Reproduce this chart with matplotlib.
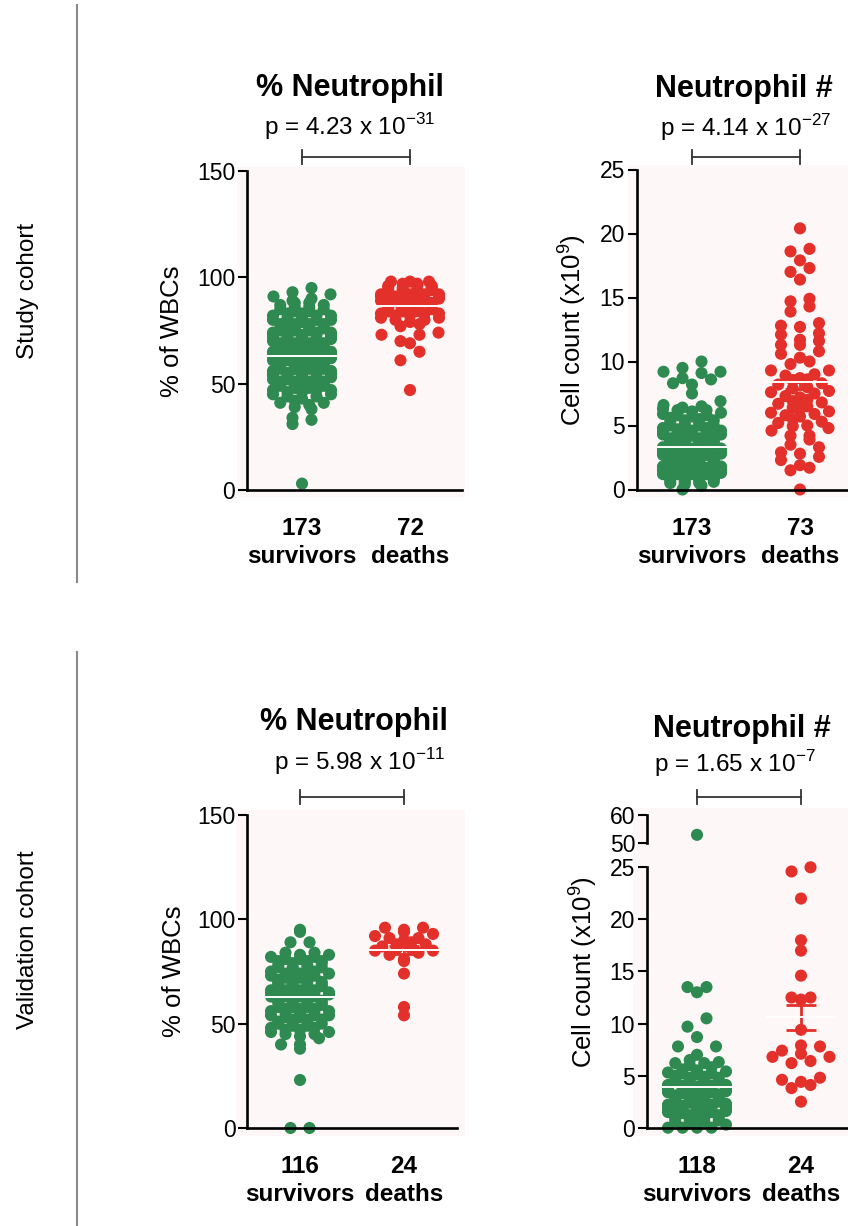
import matplotlib
matplotlib.use('Agg')
import matplotlib.pyplot as plt
import numpy as np
from matplotlib.lines import Line2D
from matplotlib.patches import Rectangle

plt.rcParams['font.family'] = 'Liberation Sans'
plt.rcParams['mathtext.fontset'] = 'custom'
plt.rcParams['mathtext.rm'] = 'Liberation Sans'

# ---- data ----
groups = ['survivors', 'deaths']

study_pct_surv = [
    3, 31, 33, 34,
    38, 39, 40, 41, 41, 42, 43, 44, 44, 45, 45,
    46, 46, 47, 47, 47, 48, 48, 49, 49, 49, 50, 50, 50, 50,
    51, 51, 51, 52, 52, 52, 52, 53, 53, 53, 54, 54, 54, 54, 55, 55, 55, 55,
    56, 56, 56, 57, 57, 57, 57, 58, 58, 58, 58, 59, 59, 59, 60, 60, 60, 60,
    61, 61, 61, 62, 62, 62, 63, 63, 63, 64, 64, 64, 65, 65, 65, 65,
    66, 66, 66, 67, 67, 67, 68, 68, 68, 69, 69, 69, 70, 70, 70, 70,
    71, 71, 71, 72, 72, 72, 73, 73, 73, 74, 74, 74, 75, 75, 75,
    76, 76, 76, 77, 77, 77, 78, 78, 78, 79, 79, 80, 80, 80,
    81, 81, 82, 82, 82, 83, 83, 84, 84, 85, 85,
    86, 86, 87, 87, 88, 88, 89, 90, 91, 92, 93, 95,
    47, 49, 51, 53, 55, 57, 59, 61, 63, 65, 67, 69, 71, 73,
    56, 58, 62, 64, 66, 68, 72, 74, 76, 78]
study_pct_death = [
    47, 61, 65, 69, 70, 73, 73, 74, 77,
    78, 79, 80, 80, 81, 81, 82, 82, 83, 83, 83, 84, 84, 84,
    85, 85, 85, 85, 86, 86, 86, 86, 87, 87, 87, 87, 88, 88, 88, 88,
    89, 89, 89, 89, 90, 90, 90, 90, 91, 91, 91, 91, 92, 92, 92, 92,
    93, 93, 93, 94, 94, 94, 95, 95, 95, 96, 96, 96, 97, 97, 98, 98, 98]

study_cnt_surv = [
    10.0, 9.5, 9.2, 9.1, 9.2, 8.7, 8.3, 8.2, 8.6, 7.5,
    0.0, 0.3, 0.4, 0.5, 0.5, 0.6, 0.7, 0.7, 0.8, 0.8, 0.9, 0.9,
    1.0, 1.0, 1.0, 1.1, 1.1, 1.1, 1.2, 1.2, 1.2, 1.3, 1.3, 1.3, 1.4, 1.4, 1.4,
    1.5, 1.5, 1.5, 1.6, 1.6, 1.6, 1.7, 1.7, 1.7, 1.8, 1.8, 1.8, 1.9, 1.9, 1.9,
    2.0, 2.0, 2.0, 2.1, 2.1, 2.1, 2.2, 2.2, 2.2, 2.3, 2.3, 2.3, 2.4, 2.4, 2.4,
    2.5, 2.5, 2.5, 2.6, 2.6, 2.6, 2.7, 2.7, 2.7, 2.8, 2.8, 2.8, 2.9, 2.9, 2.9,
    3.0, 3.0, 3.0, 3.1, 3.1, 3.2, 3.2, 3.3, 3.3, 3.4, 3.4, 3.5, 3.5, 3.6, 3.6,
    3.7, 3.7, 3.8, 3.8, 3.9, 3.9, 4.0, 4.0, 4.1, 4.1, 4.2, 4.2, 4.3, 4.3,
    4.4, 4.5, 4.5, 4.6, 4.7, 4.8, 4.8, 4.9, 5.0, 5.0,
    5.1, 5.2, 5.3, 5.4, 5.5, 5.6, 5.7, 5.8, 5.9, 6.0, 6.1, 6.2, 6.3, 6.4, 6.5, 6.6, 6.9,
    0.6, 0.9, 1.0, 1.2, 1.3, 1.5, 1.6, 1.8, 1.9, 2.0, 2.1, 2.2, 2.4, 2.5, 2.6,
    2.7, 2.8, 3.0, 3.1, 3.2, 3.4, 3.5, 3.6, 3.8, 4.0, 4.2, 4.4, 4.6, 5.0, 5.4,
    5.8, 6.2, 3.3, 2.3, 1.4]
study_cnt_death = [
    20.4, 18.8, 18.6, 17.9, 17.0, 17.3, 16.4, 14.7, 14.9, 14.3, 13.9,
    13.0, 12.7, 12.2, 12.8, 12.1, 11.6, 11.7, 11.3, 11.3, 10.8, 10.6,
    10.3, 10.0, 9.8, 9.3, 9.3,
    9.0, 8.9, 8.7, 8.6, 8.5, 8.3, 8.2, 8.0, 7.9, 7.7, 7.6, 7.5, 7.3, 7.2,
    7.0, 6.9, 6.8, 6.7, 6.5, 6.4, 6.3, 6.1, 6.0, 5.9, 5.8, 5.7, 5.5, 5.3,
    5.2, 5.0, 4.95, 4.8, 4.6,
    4.2, 4.2, 3.9, 3.5, 3.3, 2.8, 2.9, 2.55, 2.3, 1.9, 1.7, 1.5, 0.0]

valid_pct_surv = [
    0, 0, 23, 38, 40, 40, 45, 45, 84, 84, 89, 89, 94, 95,
    46, 47, 47, 48, 48, 49, 49, 50, 50, 50, 51, 51, 52, 52, 53, 53,
    54, 54, 55, 55, 56, 56, 57, 57, 58, 58, 58, 59, 59, 60, 60, 60,
    61, 61, 61, 62, 62, 62, 63, 63, 63, 64, 64, 64, 65, 65, 65,
    66, 66, 66, 67, 67, 67, 68, 68, 68, 69, 69, 70, 70, 70, 71, 71,
    72, 72, 73, 73, 74, 74, 75, 75, 76, 76, 77, 77, 78, 78, 79, 79,
    80, 80, 81, 81, 82, 82, 83, 83,
    56, 59, 63, 66, 69, 71, 74, 77, 80, 43, 44, 46, 52, 54, 57]
valid_pct_death = [54, 58, 74, 80, 81, 83, 84, 85, 85, 86, 86, 87,
                   88, 88, 89, 90, 91, 91, 92, 93, 94, 95, 96, 96]

valid_cnt_surv = [
    53, 13.5, 13.5, 13.0, 10.5, 9.7, 8.7, 7.8, 7.8, 7.0, 6.2, 6.2, 0, 0, 0, 0,
    0.3, 0.5, 0.6, 0.7, 0.8, 0.9, 1.0, 1.0, 1.1, 1.2, 1.2, 1.3, 1.4, 1.4,
    1.5, 1.5, 1.6, 1.6, 1.7, 1.8, 1.8, 1.9, 1.9,
    2.0, 2.0, 2.1, 2.1, 2.2, 2.2, 2.3, 2.3, 2.4, 2.4, 2.5, 2.5, 2.6, 2.6,
    2.7, 2.7, 2.8, 2.8, 2.9, 2.9, 3.0, 3.0, 3.1, 3.1, 3.2, 3.2, 3.3, 3.3,
    3.4, 3.4, 3.5, 3.5, 3.6, 3.6, 3.7, 3.7, 3.8, 3.8, 3.9, 3.9, 4.0, 4.0,
    4.1, 4.2, 4.3, 4.4, 4.5, 4.6, 4.7, 4.8, 4.9, 5.0, 5.1, 5.2, 5.3, 5.4,
    5.5, 5.6, 5.8, 6.0, 6.3, 6.5,
    1.1, 1.3, 1.7, 2.1, 2.4, 2.6, 2.9, 3.2, 3.5, 3.8, 4.1, 4.4, 4.8, 5.2,
    0.4, 0.6, 0.9]
valid_cnt_death = [25.0, 24.6, 22.0, 18.0, 17.0, 14.6, 12.5, 12.5, 12.3, 9.4,
                   7.9, 7.8, 7.4, 7.1, 6.8, 6.8, 6.2, 6.4, 4.8, 4.6, 4.1, 4.4,
                   3.8, 2.5]

# mean and SEM per group (survivors, deaths)
study_pct_mean, study_pct_sem = [62.9, 86.5], [1.1, 1.1]
study_cnt_mean, study_cnt_sem = [3.3, 8.4], [0.18, 0.55]
valid_pct_mean, valid_pct_sem = [63.0, 85.4], [1.6, 2.0]
valid_cnt_mean, valid_cnt_sem = [3.9, 10.6], [0.5, 1.2]

n_labels = {'study_pct': ['173', '72'], 'study_cnt': ['173', '73'],
            'valid_pct': ['116', '24'], 'valid_cnt': ['118', '24']}
p_values = {'study_pct': r'p = 4.23 x 10$^{\mathregular{-31}}$',
            'study_cnt': r'p = 4.14 x 10$^{\mathregular{-27}}$',
            'valid_pct': r'p = 5.98 x 10$^{\mathregular{-11}}$',
            'valid_cnt': r'p = 1.65 x 10$^{\mathregular{-7}}$'}

GREEN = '#2e8a50'
RED = '#e3302a'
PINK = '#fdf8f7'
W, H = 848, 1226

fig = plt.figure(figsize=(W / 100, H / 100), dpi=100)


def fx(x):
    return x / W


def fy(y):
    return 1 - y / H


def ftext(x, y, s, **kw):
    fig.text(fx(x), fy(y), s, **kw)


def fline(xs, ys, **kw):
    fig.add_artist(Line2D([fx(v) for v in xs], [fy(v) for v in ys], **kw))


def swarm(vals, ppu, dot=12.0, half=29.0, max_cols=5):
    # GraphPad-like layout: rows of ~one dot height, brick pattern when dense
    vals = np.asarray(vals, float)
    rows = np.round(vals * ppu / (dot * 0.8)).astype(int)
    off = np.zeros(len(vals))
    for r in np.unique(rows):
        idx = np.where(rows == r)[0]
        idx = idx[np.argsort(vals[idx], kind='stable')]
        n = len(idx)
        if n == 1:
            continue
        if n < max_cols:
            step = min(19.0, 2 * half / (n - 1))
            slots = (np.arange(n) - (n - 1) / 2) * step
        else:
            ncols = max_cols if r % 2 == 0 else max_cols - 1
            step = 2 * half / (max_cols - 1)
            slots = (np.arange(ncols) - (ncols - 1) / 2) * step
        slots = slots[np.argsort(np.abs(slots), kind='stable')]
        for k, j in enumerate(idx):
            off[j] = slots[k % len(slots)]
    return off


def setup_axes(box, cats_px, ymap, spine_x, x_end, yticks):
    x0, y0, x1, y1 = box
    ax = fig.add_axes([fx(x0), fy(y1), (x1 - x0) / W, (y1 - y0) / H])
    ax.set_facecolor('none')
    c0, c1 = cats_px
    pc = c1 - c0
    ax.set_xlim((x0 - c0) / pc, (x1 - c0) / pc)
    v0, p0, v1, p1 = ymap
    ppu = (p0 - p1) / (v1 - v0)
    ax.set_ylim(v0 - (y1 - p0) / ppu, v1 + (p1 - y0) / ppu)
    for s in ('top', 'right'):
        ax.spines[s].set_visible(False)
    xs = (spine_x - c0) / pc
    ax.spines['left'].set_position(('data', xs))
    ax.spines['left'].set_bounds(v0, v1)
    if x_end is None:
        ax.spines['bottom'].set_visible(False)
    else:
        ax.spines['bottom'].set_position(('data', v0))
        ax.spines['bottom'].set_bounds(xs, (x_end - c0) / pc)
    for s in ('left', 'bottom'):
        ax.spines[s].set_linewidth(1.9)
    ax.set_xticks([])
    ax.set_yticks(yticks)
    ax.tick_params(axis='y', direction='out', length=6.5, width=1.5,
                   labelsize=16.5, pad=2)
    return ax, ppu, pc


def draw_groups(ax, ppu, pc, data, means, sems, upper=None):
    for i, (vals, color) in enumerate(zip(data, [GREEN, RED])):
        vals = np.asarray(vals, float)
        off = swarm(vals, ppu) / pc
        lo = vals <= 25.5 if upper is not None else np.ones(len(vals), bool)
        ax.scatter(i + off[lo], vals[lo], s=76, color=color, edgecolors='none',
                   clip_on=False, zorder=2)
        if upper is not None and (~lo).any():
            upper.scatter(i + off[~lo], vals[~lo], s=76, color=color,
                          edgecolors='none', clip_on=False, zorder=2)
        m, e = means[i], sems[i]
        ax.vlines(i, m - e, m + e, colors=color, lw=2, zorder=3)
        ax.hlines([m - e, m + e], i - 15 / pc, i + 15 / pc, colors=color,
                  lw=2, zorder=3)
        ax.hlines(m, i - 35 / pc, i + 35 / pc, colors='white', lw=1.4, zorder=4)


def annotate(key, cats_px, title, tx, ty, px, py, by, ny, ylabel, lx, ly):
    ftext(tx, ty, title, ha='center', va='baseline', fontsize=22,
          fontweight='bold')
    ftext(px, py, p_values[key], ha='center', va='baseline', fontsize=17.5)
    c0, c1 = cats_px
    fline([c0, c1], [by, by], color='#333333', lw=1.3)
    for c in (c0, c1):
        fline([c, c], [by - 7, by + 7], color='#333333', lw=1.3)
    for c, n, g in zip(cats_px, n_labels[key], groups):
        ftext(c, ny, n, ha='center', va='baseline', fontsize=17.5,
              fontweight='bold')
        ftext(c, ny + 28, g, ha='center', va='baseline', fontsize=17.5,
              fontweight='bold')
    ftext(lx, ly, ylabel, ha='center', va='center', rotation=90, fontsize=18.5)


# pink panel backgrounds
for (x0, y0, x1, y1) in [(237, 167, 465, 497), (628, 165, 848, 497),
                         (236, 810, 465, 1136), (633, 808, 848, 1136)]:
    fig.add_artist(Rectangle((fx(x0), fy(y1)), (x1 - x0) / W, (y1 - y0) / H,
                             transform=fig.transFigure, facecolor=PINK,
                             edgecolor='none', zorder=-1))

# panel 1: study % neutrophil
cats = (302, 410)
ax, ppu, pc = setup_axes((237, 167, 465, 497), cats, (0, 490, 150, 171), 247,
                         462, [0, 50, 100, 150])
draw_groups(ax, ppu, pc, [study_pct_surv, study_pct_death], study_pct_mean,
            study_pct_sem)
annotate('study_pct', cats, '% Neutrophil', 350, 96, 350, 135, 157, 535,
         '% of WBCs', 172, 331)

# panel 2: study neutrophil count
cats = (692, 800)
ax, ppu, pc = setup_axes((628, 165, 848, 497), cats, (0, 489.5, 25, 169.5),
                         637, 848, [0, 5, 10, 15, 20, 25])
draw_groups(ax, ppu, pc, [study_cnt_surv, study_cnt_death], study_cnt_mean,
            study_cnt_sem)
annotate('study_cnt', cats, 'Neutrophil #', 744, 97, 746, 136, 157, 535,
         r'Cell count (x10$^{\mathregular{9}}$)', 572, 330)

# panel 3: validation % neutrophil
cats = (300, 404)
ax, ppu, pc = setup_axes((236, 810, 465, 1136), cats, (0, 1128, 150, 815),
                         247.5, 457, [0, 50, 100, 150])
draw_groups(ax, ppu, pc, [valid_pct_surv, valid_pct_death], valid_pct_mean,
            valid_pct_sem)
annotate('valid_pct', cats, '% Neutrophil', 354, 730, 360, 770, 797, 1173,
         '% of WBCs', 174, 971)

# panel 4: validation neutrophil count, broken y axis
cats = (697, 801)
ax_up, _, _ = setup_axes((633, 808, 848, 850), cats, (50, 843.3, 60, 815),
                         647, None, [50, 60])
ax, ppu, pc = setup_axes((633, 860, 848, 1136), cats, (0, 1127.7, 25, 867.3),
                         647, 848, [0, 5, 10, 15, 20, 25])
draw_groups(ax, ppu, pc, [valid_cnt_surv, valid_cnt_death], valid_cnt_mean,
            valid_cnt_sem, upper=ax_up)
annotate('valid_cnt', cats, 'Neutrophil #', 742, 737, 735, 772, 797, 1173,
         r'Cell count (x10$^{\mathregular{9}}$)', 583, 972)

# cohort labels and dividers
fline([77, 77], [5, 582], color='#8a8a8a', lw=1.5)
fline([77, 77], [652, 1226], color='#8a8a8a', lw=1.5)
ftext(28, 291, 'Study cohort', rotation=90, ha='center', va='center',
      fontsize=17.5)
ftext(28, 940, 'Validation cohort', rotation=90, ha='center', va='center',
      fontsize=17.5)

fig.savefig('out.png', dpi=100, facecolor='white')
